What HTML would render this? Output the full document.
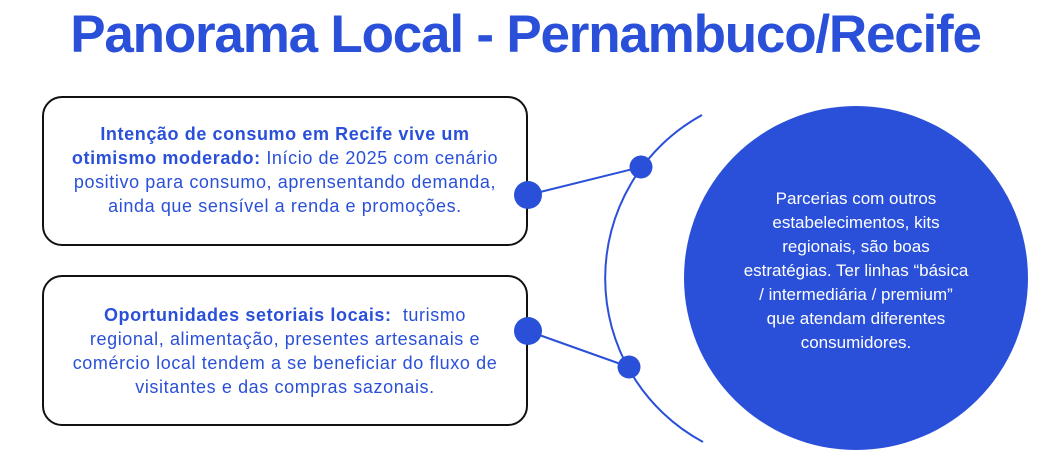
<!DOCTYPE html>
<html><head><meta charset="utf-8"><style>
body{margin:0;width:1051px;height:461px;background:#fff;position:relative;overflow:hidden;font-family:"Liberation Sans",sans-serif;color:#2a50d9}
.t{position:absolute;left:0;width:1051px;top:4px;text-align:center;font-size:53px;font-weight:bold;letter-spacing:-1.2px}
.b{position:absolute;left:42px;width:486px;border:2px solid #111;border-radius:20px;display:flex;align-items:center;justify-content:center;text-align:center;font-size:18px;letter-spacing:0.6px;line-height:24px;box-sizing:border-box;white-space:nowrap}
.c{position:absolute;left:684px;top:106px;width:344px;height:344px;border-radius:50%;background:#2a50d9;color:#fff;display:flex;align-items:center;justify-content:center;text-align:center;font-size:17px;line-height:24px;box-sizing:border-box;white-space:nowrap}
</style></head><body>
<div class="t">Panorama Local - Pernambuco/Recife</div>
<div class="b" style="top:96px;height:150px"><div style="margin-top:-2px"><b>Intenção de consumo em Recife vive um</b><br><b>otimismo moderado:</b> Início de 2025 com cenário<br>positivo para consumo, aprensentando demanda,<br>ainda que sensível a renda e promoções.</div></div>
<div class="b" style="top:275px;height:151px"><div><b>Oportunidades setoriais locais:</b>&nbsp; turismo<br>regional, alimentação, presentes artesanais e<br>comércio local tendem a se beneficiar do fluxo de<br>visitantes e das compras sazonais.</div></div>
<div class="c"><div style="margin-top:-14px">Parcerias com outros<br>estabelecimentos, kits<br>regionais, são boas<br>estratégias. Ter linhas “básica<br>/ intermediária / premium”<br>que atendam diferentes<br>consumidores.</div></div>
<svg width="1051" height="461" style="position:absolute;left:0;top:0">
<path d="M702 115 A186 186 0 0 0 703 442" fill="none" stroke="#2a50d9" stroke-width="2"/>
<line x1="528" y1="195" x2="641" y2="167" stroke="#2a50d9" stroke-width="2"/>
<line x1="528" y1="331" x2="629" y2="367" stroke="#2a50d9" stroke-width="2"/>
<g fill="#2a50d9"><circle cx="528" cy="195" r="14"/><circle cx="528" cy="331" r="14"/><circle cx="641" cy="167" r="11.5"/><circle cx="629" cy="367" r="11.5"/></g>
</svg>
</body></html>
